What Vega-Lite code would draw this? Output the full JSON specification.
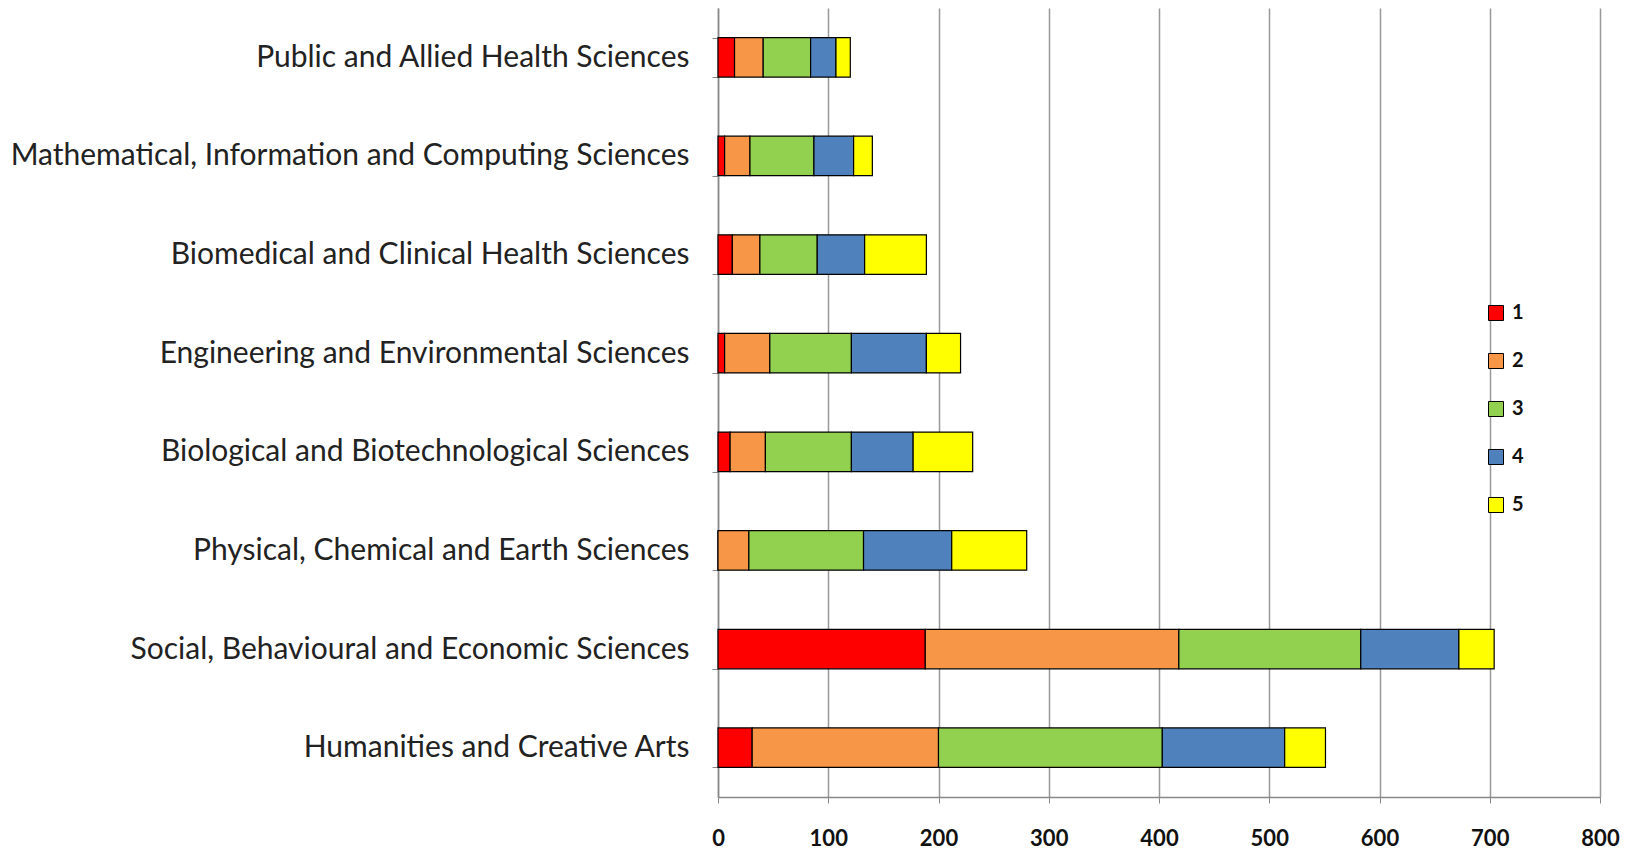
{
  "$schema": "https://vega.github.io/schema/vega-lite/v6.json",
  "width": 882,
  "height": 789,
  "autosize": {"type": "none"},
  "padding": {"left": 718, "top": 8, "right": 37, "bottom": 55},
  "background": "white",
  "data": {
    "values": [
      {"field": "Public and Allied Health Sciences", "level": "1", "count": 15},
      {"field": "Public and Allied Health Sciences", "level": "2", "count": 26},
      {"field": "Public and Allied Health Sciences", "level": "3", "count": 43},
      {"field": "Public and Allied Health Sciences", "level": "4", "count": 23},
      {"field": "Public and Allied Health Sciences", "level": "5", "count": 13},
      {"field": "Mathematical, Information and Computing Sciences", "level": "1", "count": 6},
      {"field": "Mathematical, Information and Computing Sciences", "level": "2", "count": 23},
      {"field": "Mathematical, Information and Computing Sciences", "level": "3", "count": 58},
      {"field": "Mathematical, Information and Computing Sciences", "level": "4", "count": 36},
      {"field": "Mathematical, Information and Computing Sciences", "level": "5", "count": 17},
      {"field": "Biomedical and Clinical Health Sciences", "level": "1", "count": 13},
      {"field": "Biomedical and Clinical Health Sciences", "level": "2", "count": 25},
      {"field": "Biomedical and Clinical Health Sciences", "level": "3", "count": 52},
      {"field": "Biomedical and Clinical Health Sciences", "level": "4", "count": 43},
      {"field": "Biomedical and Clinical Health Sciences", "level": "5", "count": 56},
      {"field": "Engineering and Environmental Sciences", "level": "1", "count": 6},
      {"field": "Engineering and Environmental Sciences", "level": "2", "count": 41},
      {"field": "Engineering and Environmental Sciences", "level": "3", "count": 74},
      {"field": "Engineering and Environmental Sciences", "level": "4", "count": 68},
      {"field": "Engineering and Environmental Sciences", "level": "5", "count": 31},
      {"field": "Biological and Biotechnological Sciences", "level": "1", "count": 11},
      {"field": "Biological and Biotechnological Sciences", "level": "2", "count": 32},
      {"field": "Biological and Biotechnological Sciences", "level": "3", "count": 78},
      {"field": "Biological and Biotechnological Sciences", "level": "4", "count": 56},
      {"field": "Biological and Biotechnological Sciences", "level": "5", "count": 54},
      {"field": "Physical, Chemical and Earth Sciences", "level": "1", "count": 0},
      {"field": "Physical, Chemical and Earth Sciences", "level": "2", "count": 28},
      {"field": "Physical, Chemical and Earth Sciences", "level": "3", "count": 104},
      {"field": "Physical, Chemical and Earth Sciences", "level": "4", "count": 80},
      {"field": "Physical, Chemical and Earth Sciences", "level": "5", "count": 68},
      {"field": "Social, Behavioural and Economic Sciences", "level": "1", "count": 188},
      {"field": "Social, Behavioural and Economic Sciences", "level": "2", "count": 230},
      {"field": "Social, Behavioural and Economic Sciences", "level": "3", "count": 165},
      {"field": "Social, Behavioural and Economic Sciences", "level": "4", "count": 89},
      {"field": "Social, Behavioural and Economic Sciences", "level": "5", "count": 32},
      {"field": "Humanities and Creative Arts", "level": "1", "count": 31},
      {"field": "Humanities and Creative Arts", "level": "2", "count": 169},
      {"field": "Humanities and Creative Arts", "level": "3", "count": 203},
      {"field": "Humanities and Creative Arts", "level": "4", "count": 111},
      {"field": "Humanities and Creative Arts", "level": "5", "count": 37}
    ]
  },
  "mark": {"type": "bar", "stroke": "black", "strokeWidth": 1.2},
  "encoding": {
    "y": {
      "field": "field",
      "type": "nominal",
      "sort": [
        "Public and Allied Health Sciences",
        "Mathematical, Information and Computing Sciences",
        "Biomedical and Clinical Health Sciences",
        "Engineering and Environmental Sciences",
        "Biological and Biotechnological Sciences",
        "Physical, Chemical and Earth Sciences",
        "Social, Behavioural and Economic Sciences",
        "Humanities and Creative Arts"
      ],
      "scale": {"paddingInner": 0.6, "paddingOuter": 0.3},
      "axis": {
        "title": null,
        "tickBand": "extent",
        "tickSize": 6,
        "tickColor": "#888888",
        "domainColor": "#888888",
        "domainWidth": 1.5,
        "labelFont": "Lato",
        "labelFontSize": 30,
        "labelColor": "#222222",
        "labelPadding": 23,
        "labelLimit": 0,
        "grid": false
      }
    },
    "x": {
      "field": "count",
      "type": "quantitative",
      "stack": "zero",
      "scale": {"domain": [0, 800], "nice": false},
      "axis": {
        "title": null,
        "values": [0, 100, 200, 300, 400, 500, 600, 700, 800],
        "grid": true,
        "gridColor": "#999999",
        "gridWidth": 1.5,
        "gridOpacity": 1,
        "tickSize": 6,
        "tickColor": "#888888",
        "domainColor": "#888888",
        "domainWidth": 1.5,
        "labelFont": "Lato",
        "labelFontSize": 22,
        "labelFontWeight": "bold",
        "labelColor": "#111111",
        "labelPadding": 25,
        "labelFlush": false
      }
    },
    "color": {
      "field": "level",
      "type": "nominal",
      "scale": {
        "domain": ["1", "2", "3", "4", "5"],
        "range": ["#FF0000", "#F79646", "#92D050", "#4F81BD", "#FFFF00"]
      },
      "legend": {
        "title": null,
        "orient": "none",
        "legendX": 768,
        "legendY": 295,
        "padding": 0,
        "symbolType": "square",
        "symbolSize": 225,
        "symbolStrokeColor": "black",
        "symbolStrokeWidth": 1,
        "symbolOpacity": 1,
        "labelFont": "Lato",
        "labelFontSize": 20,
        "labelFontWeight": "bold",
        "labelColor": "#111111",
        "labelOffset": 6,
        "rowPadding": 28
      }
    },
    "order": {"field": "level", "type": "nominal", "sort": "ascending"}
  },
  "config": {"view": {"stroke": null}}
}
